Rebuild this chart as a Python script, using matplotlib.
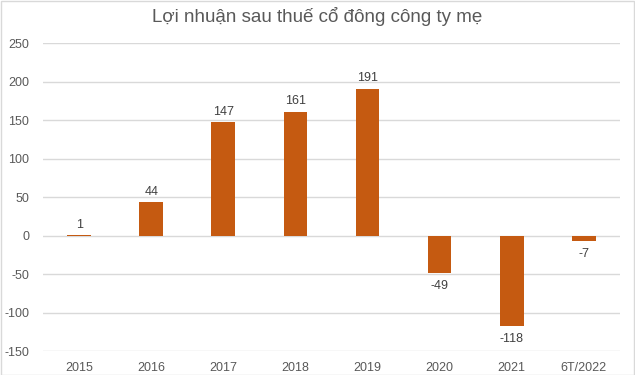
import matplotlib
matplotlib.use("Agg")
import matplotlib.pyplot as plt
from matplotlib.patches import Rectangle

categories = ["2015", "2016", "2017", "2018", "2019", "2020", "2021", "6T/2022"]
values = [1, 44, 147, 161, 191, -49, -118, -7]
yticks = [-150, -100, -50, 0, 50, 100, 150, 200, 250]

plt.rcParams['font.family'] = ['Liberation Sans', 'DejaVu Sans']
fig = plt.figure(figsize=(6.35, 3.75), dpi=100)
ax = fig.add_axes([0.068, 0.064, 0.908, 0.821])
x = list(range(len(categories)))
ax.bar(x, values, width=0.33, color="#C55A11", zorder=3)
for xi, v in zip(x, values):
    if v >= 0:
        ax.annotate(str(v), (xi, v), xytext=(0, 3), textcoords="offset points",
                    ha="center", va="bottom", fontsize=9, color="#404040")
    else:
        ax.annotate(str(v), (xi, v), xytext=(0, -5), textcoords="offset points",
                    ha="center", va="top", fontsize=9, color="#404040")
ax.set_xlim(-0.5, len(categories) - 0.5)
ax.set_ylim(-150, 250)
ax.set_yticks(yticks)
ax.set_yticklabels([str(t) for t in yticks])
ax.set_xticks(x)
ax.set_xticklabels(categories)
ax.tick_params(axis="both", length=0, labelsize=9, colors="#595959")
ax.tick_params(axis="x", pad=8)
ax.tick_params(axis="y", pad=10)
ax.grid(axis="y", color="#D9D9D9", linewidth=1, zorder=0)
for s in ax.spines.values():
    s.set_visible(False)
fig.text(0.5, 0.955, "Lợi nhuận sau thuế cổ đông công ty mẹ", ha="center", va="center",
         fontsize=13.5, color="#595959")
fig.patches.append(Rectangle((0.001, 0.001), 0.997, 0.997, transform=fig.transFigure,
                             fill=False, edgecolor="#D9D9D9", linewidth=1))
fig.savefig("out.png", dpi=100)
